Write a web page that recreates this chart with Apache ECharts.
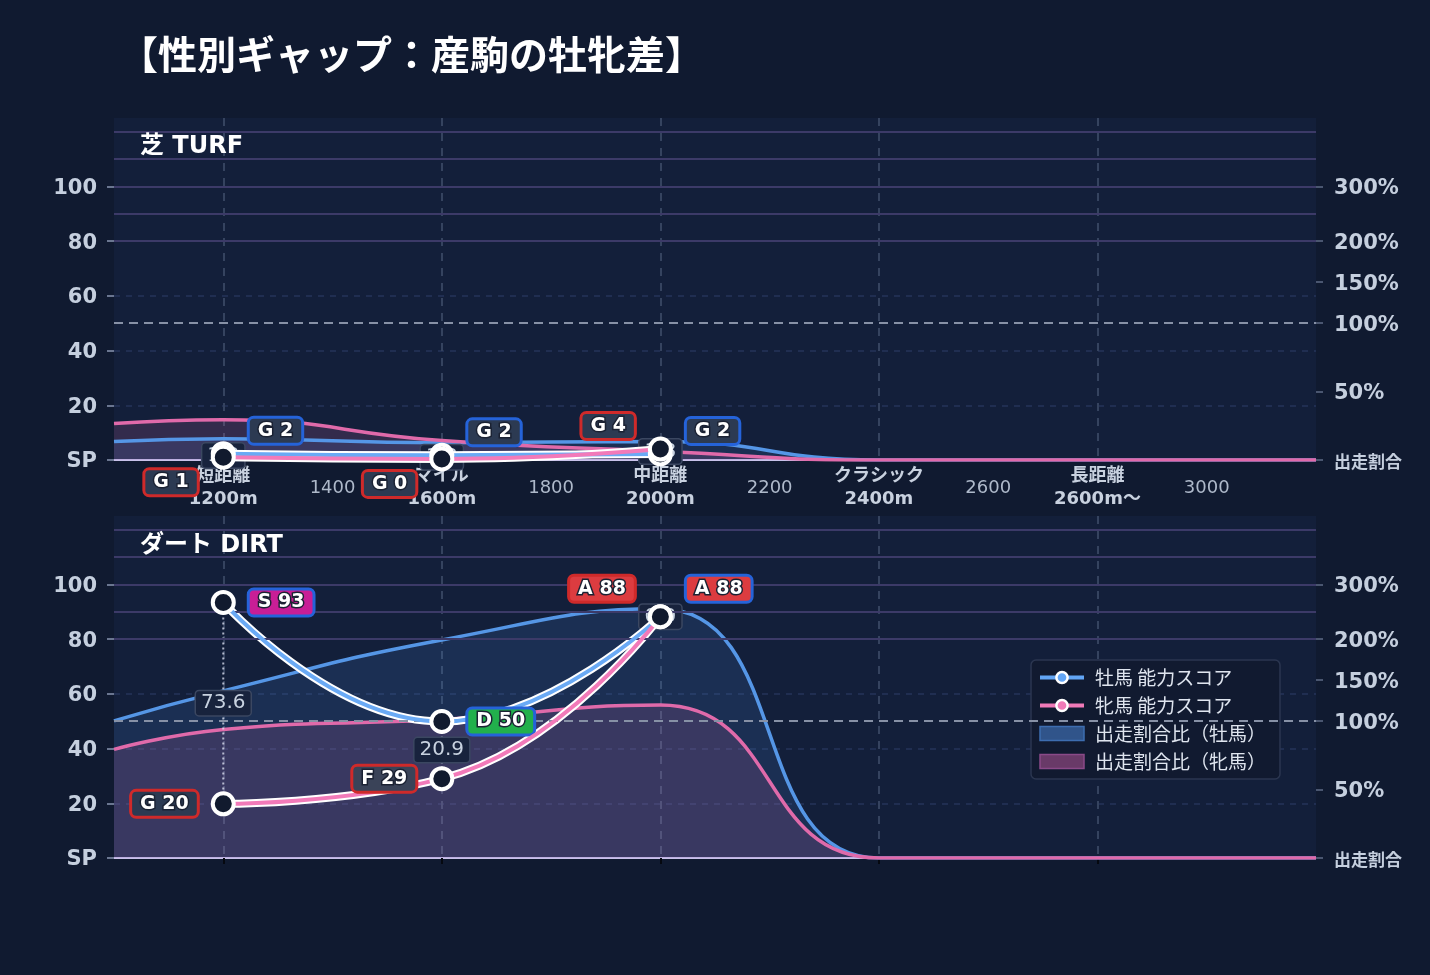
<!DOCTYPE html>
<html><head><meta charset="utf-8">
<script src="https://cdn.jsdelivr.net/npm/echarts@6/dist/echarts.min.js"></script>
<style>html,body{margin:0;padding:0;background:#101a30;}#c{width:1430px;height:975px;}</style>
</head><body><div id="c"></div>
<script>
// ---------------- data ----------------
const titleText = '【性別ギャップ：産駒の牡牝差】';
const panelNames = ['芝 TURF', 'ダート DIRT'];
const seriesNames = ['牡馬 能力スコア', '牝馬 能力スコア', '出走割合比（牡馬）', '出走割合比（牝馬）'];

const namedTicks = [1200, 1600, 2000, 2400, 2800];
const namedTop = ['短距離', 'マイル', '中距離', 'クラシック', '長距離'];
const namedBottom = ['1200m', '1600m', '2000m', '2400m', '2600m〜'];
const numericTicks = [1400, 1800, 2200, 2600, 3000];

const areaX = [1000, 1200, 1600, 2000, 2400, 2800, 3200];
const turfMaleShare   = [6.8, 7.8, 6.3, 6.8, 0, 0, 0];
const turfFemaleShare = [13.3, 14.7, 7.1, 3.2, 0, 0, 0];
const dirtMaleShare   = [50.1, 61.1, 79.7, 91.1, 0, 0, 0];
const dirtFemaleShare = [39.7, 47.0, 50.6, 55.9, 0, 0, 0];

const scoreX = [1200, 1600, 2000];
const turfMaleScore   = [2.3, 1.7, 2.2];
const turfFemaleScore = [1.0, 0.4, 4.0];
const turfMaleGrade   = ['G', 'G', 'G'];
const turfFemaleGrade = ['G', 'G', 'G'];
const dirtMaleScore   = [93.4, 49.9, 88.2];
const dirtFemaleScore = [19.8, 29.0, 88.2];
const dirtMaleGrade   = ['S', 'D', 'A'];
const dirtFemaleGrade = ['G', 'F', 'A'];

const leftTicks = [0, 20, 40, 60, 80, 100];
const leftTickLabels = ['SP', '20', '40', '60', '80', '100'];
const rightTicks = [0, 25, 50, 65, 80, 100];
const rightTickLabels = ['出走割合', '50%', '100%', '150%', '200%', '300%'];
const bandLines = [80, 90, 100, 110, 120];
const parityLine = 50;

// ---------------- styles ----------------
const FONT = '"DejaVu Sans", "Noto Sans CJK JP", sans-serif';
const CJK = '"Noto Sans CJK JP", "DejaVu Sans", sans-serif';
const gradeColors = { S: '#c81e96', A: '#dc3c40', B: '#e07a2a', C: '#c9a227', D: '#22b04c', E: '#5a6a80', F: '#3a4358', G: '#2c3a52' };
const maleBorder = '#2563d9', femaleBorder = '#cf2a2a';
const maleLine = '#6aaaf5', femaleLine = '#f27ab9';
const panels = [
  { top: 118, lift: -23, ms: turfMaleShare, fs: turfFemaleShare, m: turfMaleScore, f: turfFemaleScore, mg: turfMaleGrade, fg: turfFemaleGrade },
  { top: 516, lift: -28, ms: dirtMaleShare, fs: dirtFemaleShare, m: dirtMaleScore, f: dirtFemaleScore, mg: dirtMaleGrade, fg: dirtFemaleGrade }
];

const grids = [], xAxes = [], yAxes = [], series = [];

function scoreLabel(isMale, k, p) {
  const m = p.m[k], f = p.f[k];
  const close = Math.abs(m - f) < 10;
  let dy = 0;
  if (close) dy = isMale ? p.lift : (f >= m ? p.lift : 25);
  const g = isMale ? p.mg[k] : p.fg[k];
  const v = isMale ? m : f;
  return {
    show: true, position: isMale ? 'right' : 'left', distance: 14, offset: [0, dy],
    formatter: g + ' ' + Math.round(v),
    color: '#fff', fontSize: 19, fontWeight: 'bold', fontFamily: FONT,
    textBorderColor: '#1b2233', textBorderWidth: 3,
    backgroundColor: gradeColors[g], borderColor: isMale ? maleBorder : femaleBorder,
    borderWidth: 3, borderRadius: 4, padding: [3, 8, 2, 8]
  };
}

panels.forEach((p, i) => {
  grids.push({ left: 114, width: 1202, top: p.top, height: 342, show: true, backgroundColor: '#131f3a', borderWidth: 0 });
  xAxes.push({
    type: 'value', gridIndex: i, min: 1000, max: 3200,
    axisLine: { show: true, onZero: false, lineStyle: { color: '#c9c2ea', width: 2 } },
    axisTick: { show: i === 1, customValues: namedTicks, length: 6, lineStyle: { color: '#05080f', width: 2 } },
    axisLabel: {
      show: i === 0, customValues: namedTicks.concat(numericTicks).sort((a, b) => a - b), margin: 5,
      formatter: v => {
        const n = namedTicks.indexOf(v);
        if (n >= 0) return '{b|' + namedTop[n] + '}\n{b|' + namedBottom[n] + '}';
        return '{n|' + v + '}';
      },
      rich: {
        b: { fontSize: 18, fontWeight: 'bold', color: '#c8d1df', lineHeight: 23, fontFamily: FONT },
        n: { fontSize: 18, color: '#aeb9ca', lineHeight: 46, fontFamily: FONT }
      }
    },
    splitLine: { show: true, lineStyle: { color: '#35435f', width: 2, type: [8, 7] } }
  });
  yAxes.push({
    type: 'value', gridIndex: i, min: 0, max: 125, position: 'left',
    axisLine: { show: false },
    axisTick: { show: true, customValues: leftTicks, length: 7, lineStyle: { color: '#6a7690', width: 2 } },
    axisLabel: {
      customValues: leftTicks, margin: 17, padding: [4, 0, 0, 0],
      formatter: v => '{b|' + leftTickLabels[leftTicks.indexOf(v)] + '}',
      rich: { b: { color: '#c5cfde', fontSize: 21, fontWeight: 'bold', fontFamily: FONT } }
    },
    splitLine: { show: true, lineStyle: { color: '#26355a', width: 1.5, type: [6, 6] } }
  });
  yAxes.push({
    type: 'value', gridIndex: i, min: 0, max: 125, position: 'right',
    axisLine: { show: false },
    axisTick: { show: true, customValues: rightTicks, length: 7, lineStyle: { color: '#4a5670', width: 2 } },
    axisLabel: {
      customValues: rightTicks, margin: 18, padding: [4, 0, 0, 0],
      formatter: v => { const s = rightTickLabels[rightTicks.indexOf(v)]; return v === 0 ? '{s|' + s + '}' : '{b|' + s + '}'; },
      rich: {
        b: { color: '#c5cfde', fontSize: 21, fontWeight: 'bold', fontFamily: FONT },
        s: { color: '#c5cfde', fontSize: 17, fontWeight: 'bold', fontFamily: CJK }
      }
    },
    splitLine: { show: false }
  });
  const yl = 2 * i;
  series.push({
    name: seriesNames[2], type: 'line', xAxisIndex: i, yAxisIndex: yl, smooth: true, symbol: 'none', z: 2,
    data: areaX.map((x, k) => [x, p.ms[k]]),
    lineStyle: { color: '#5596e6', width: 3.5 }, itemStyle: { color: '#5596e6' },
    areaStyle: { color: 'rgba(74,144,226,0.21)' },
    markLine: {
      silent: true, symbol: 'none', label: { show: false }, animation: false,
      data: bandLines.map(v => ({ yAxis: v, lineStyle: { color: '#3c3a68', width: 2, type: 'solid' } }))
        .concat([{ yAxis: parityLine, lineStyle: { color: '#8791a6', width: 2, type: [9, 6] } }])
    }
  });
  series.push({
    name: seriesNames[3], type: 'line', xAxisIndex: i, yAxisIndex: yl, smooth: true, symbol: 'none', z: 2,
    data: areaX.map((x, k) => [x, p.fs[k]]),
    lineStyle: { color: '#e06aaa', width: 3.5 }, itemStyle: { color: '#e06aaa' },
    areaStyle: { color: 'rgba(228,108,178,0.22)' }
  });
  series.push({
    type: 'custom', name: 'gap' + i, xAxisIndex: i, yAxisIndex: yl, z: 3, silent: true,
    data: scoreX.map((x, k) => [x, p.m[k], p.f[k]]),
    encode: { x: 0, y: [1, 2] },
    renderItem: (params, api) => {
      const x = api.value(0), m = api.value(1), f = api.value(2);
      const p1 = api.coord([x, m]), p2 = api.coord([x, f]), pm = api.coord([x, (m + f) / 2]);
      return { type: 'group', children: [
        { type: 'line', shape: { x1: p1[0], y1: p1[1], x2: p2[0], y2: p2[1] }, style: { stroke: 'rgba(225,230,245,0.75)', lineWidth: 2, lineDash: [2, 3] } },
        { type: 'text', x: pm[0], y: pm[1], style: {
          text: Math.abs(m - f).toFixed(1), fill: '#c8d2e0', font: '20px ' + FONT,
          align: 'center', verticalAlign: 'middle', backgroundColor: '#18233d',
          borderColor: '#3b4761', borderWidth: 1.5, borderRadius: 3, padding: [2, 5] } }
      ] };
    }
  });
  // male score
  series.push({
    name: 'mu' + i, type: 'line', xAxisIndex: i, yAxisIndex: yl, smooth: true, symbol: 'none', z: 4, silent: true,
    data: scoreX.map((x, k) => [x, p.m[k]]), lineStyle: { color: '#ffffff', width: 8 }
  });
  series.push({
    name: seriesNames[0], type: 'line', xAxisIndex: i, yAxisIndex: yl, smooth: true, z: 5,
    symbol: 'circle', symbolSize: 21,
    itemStyle: { color: '#111a2e', borderColor: '#ffffff', borderWidth: 4 },
    lineStyle: { color: maleLine, width: 4 },
    data: scoreX.map((x, k) => ({ value: [x, p.m[k]], label: scoreLabel(true, k, p) }))
  });
  // female score
  series.push({
    name: 'fu' + i, type: 'line', xAxisIndex: i, yAxisIndex: yl, smooth: true, symbol: 'none', z: 4, silent: true,
    data: scoreX.map((x, k) => [x, p.f[k]]), lineStyle: { color: '#ffffff', width: 8 }
  });
  series.push({
    name: seriesNames[1], type: 'line', xAxisIndex: i, yAxisIndex: yl, smooth: true, z: 6,
    symbol: 'circle', symbolSize: 21,
    itemStyle: { color: '#111a2e', borderColor: '#ffffff', borderWidth: 4 },
    lineStyle: { color: femaleLine, width: 4 },
    data: scoreX.map((x, k) => ({ value: [x, p.f[k]], label: scoreLabel(false, k, p) }))
  });
});

const option = {
  backgroundColor: '#101a30',
  animation: false,
  textStyle: { fontFamily: FONT },
  title: [
    { text: titleText, left: 114, top: 30, textStyle: { color: '#ffffff', fontSize: 39, fontWeight: 'bold', fontFamily: CJK } },
    { text: panelNames[0], left: 135, top: 130, textStyle: { color: '#ffffff', fontSize: 24, fontWeight: 'bold', fontFamily: FONT } },
    { text: panelNames[1], left: 135, top: 529, textStyle: { color: '#ffffff', fontSize: 24, fontWeight: 'bold', fontFamily: FONT } }
  ],
  legend: {
    left: 1031, top: 660, orient: 'vertical', itemGap: 9, itemWidth: 44, itemHeight: 14,
    padding: [8, 14, 8, 7], backgroundColor: '#111a30', borderColor: '#2b3650', borderWidth: 1.5, borderRadius: 5,
    textStyle: { color: '#dfe5ef', fontSize: 19, fontFamily: CJK, padding: [0, 0, 0, 6] },
    data: [
      { name: seriesNames[0], itemStyle: { color: '#62a5f5', borderColor: '#fff', borderWidth: 2.5 }, lineStyle: { color: '#62a5f5', width: 4 } },
      { name: seriesNames[1], itemStyle: { color: '#f07ab8', borderColor: '#fff', borderWidth: 2.5 }, lineStyle: { color: '#f07ab8', width: 4 } },
      { name: seriesNames[2], icon: 'rect', itemStyle: { color: '#30548a', borderColor: '#3d6db0', borderWidth: 1.5 } },
      { name: seriesNames[3], icon: 'rect', itemStyle: { color: '#693a68', borderColor: '#8a4a88', borderWidth: 1.5 } }
    ]
  },
  grid: grids, xAxis: xAxes, yAxis: yAxes, series: series
};
echarts.init(document.getElementById('c')).setOption(option);
</script></body></html>
